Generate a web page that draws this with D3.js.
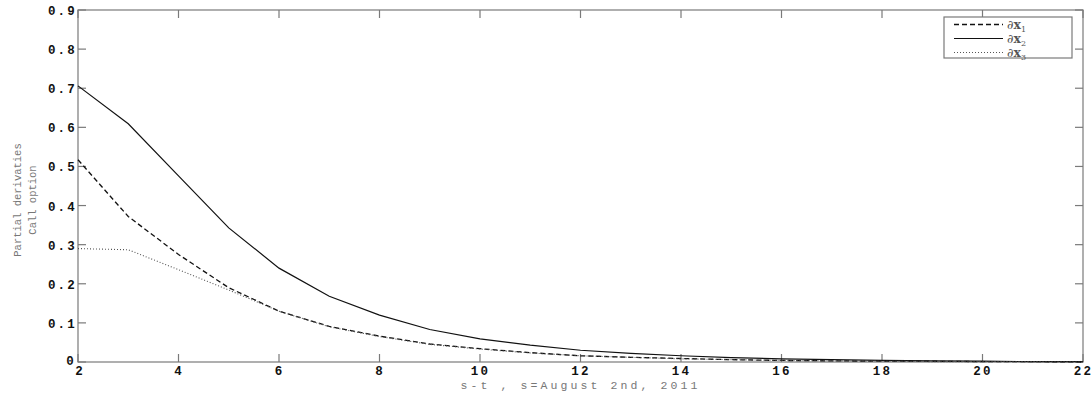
<!DOCTYPE html>
<html>
<head>
<meta charset="utf-8">
<script src="https://cdn.jsdelivr.net/npm/d3@7"></script>
<style>
  body { margin: 0; background: #fff; }
  svg { display: block; }
  .tick-label { font-family: "Liberation Mono", monospace; font-weight: bold; font-size: 12.5px; letter-spacing: 2.2px; fill: #111; }
  .axis-title { font-family: "Liberation Mono", monospace; font-size: 11.5px; fill: #777; }
</style>
</head>
<body>
<svg id="chart" width="1092" height="396"></svg>
<script>
// x values (s-t)
var days = [2, 3, 4, 5, 6, 7, 8, 9, 10, 11, 12, 13, 14, 15, 16, 17, 18, 19, 20, 21, 22];

// partial derivatives
var dx1 = [0.517, 0.372, 0.275, 0.190, 0.130, 0.091, 0.066, 0.046, 0.034, 0.024, 0.016, 0.012, 0.009, 0.006, 0.004, 0.003, 0.002, 0.002, 0.001, 0.001, 0.000];
var dx2 = [0.706, 0.609, 0.476, 0.343, 0.240, 0.168, 0.120, 0.083, 0.059, 0.043, 0.030, 0.022, 0.016, 0.011, 0.008, 0.006, 0.004, 0.003, 0.002, 0.001, 0.001];
var dx3 = [0.290, 0.287, 0.236, 0.184, 0.130, 0.090, 0.065, 0.045, 0.033, 0.023, 0.016, 0.012, 0.008, 0.006, 0.004, 0.003, 0.002, 0.001, 0.001, 0.001, 0.000];

var xTicks = [2, 4, 6, 8, 10, 12, 14, 16, 18, 20, 22];
var yTicks = [0, 0.1, 0.2, 0.3, 0.4, 0.5, 0.6, 0.7, 0.8, 0.9];
var seriesNames = ["1", "2", "3"];

var svg = d3.select("#chart");
var pLeft = 78, pRight = 1083, pTop = 10, pBottom = 362;

var x = d3.scaleLinear().domain([2, 22]).range([pLeft, pRight]);
var y = d3.scaleLinear().domain([0, 0.9]).range([pBottom, pTop]);

var axisColor = "#7a7a7a";
var tickLen = 8;

// box
svg.append("rect")
    .attr("x", pLeft).attr("y", pTop)
    .attr("width", pRight - pLeft).attr("height", pBottom - pTop)
    .attr("fill", "none")
    .attr("stroke", axisColor)
    .attr("stroke-width", 1.2);

// ticks (inside, all four sides)
var g = svg.append("g").attr("stroke", axisColor).attr("stroke-width", 1.2);
xTicks.forEach(function(t) {
  g.append("line").attr("x1", x(t)).attr("x2", x(t)).attr("y1", pBottom).attr("y2", pBottom - tickLen);
  g.append("line").attr("x1", x(t)).attr("x2", x(t)).attr("y1", pTop).attr("y2", pTop + tickLen);
});
yTicks.forEach(function(t) {
  g.append("line").attr("x1", pLeft).attr("x2", pLeft + tickLen).attr("y1", y(t)).attr("y2", y(t));
  g.append("line").attr("x1", pRight).attr("x2", pRight - tickLen).attr("y1", y(t)).attr("y2", y(t));
});

// tick labels
svg.selectAll(".xlab")
  .data(xTicks)
  .enter().append("text")
    .attr("class", "tick-label")
    .attr("x", function(d) { return x(d) + (d === 2 ? 2 : 0.5); })
    .attr("y", pBottom + 13)
    .attr("text-anchor", "middle")
    .text(function(d) { return d; });

svg.selectAll(".ylab")
  .data(yTicks)
  .enter().append("text")
    .attr("class", "tick-label")
    .attr("x", function(d) { return d === 0 ? pLeft - 2 : pLeft - 1; })
    .attr("y", function(d) { return y(d) + (d === 0 ? 3 : 5); })
    .attr("text-anchor", "end")
    .text(function(d) { return d === 0 ? "0" : d.toFixed(1); });

// axis titles
svg.append("text")
    .attr("class", "axis-title")
    .attr("x", (pLeft + pRight) / 2)
    .attr("y", pBottom + 27)
    .attr("text-anchor", "middle")
    .style("letter-spacing", "3.1px")
    .text("s-t , s=August 2nd, 2011");

var yt = svg.append("text")
    .attr("class", "axis-title")
    .attr("transform", "translate(21,200) rotate(-90)")
    .attr("text-anchor", "middle")
    .style("font-size", "10.5px");
yt.append("tspan").attr("x", 0).attr("dy", 0).text("Partial derivaties");
yt.append("tspan").attr("x", 0).attr("dy", 15).text("Call option");

// lines
var line = d3.line()
    .x(function(d, i) { return x(days[i]); })
    .y(function(d) { return y(d); });

var styles = [
  { data: dx1, dash: "5,3", color: "#111", width: 1.3 },
  { data: dx2, dash: null, color: "#111", width: 1.2 },
  { data: dx3, dash: "1,2", color: "#555", width: 1.1 }
];

styles.forEach(function(s) {
  svg.append("path")
      .attr("d", line(s.data))
      .attr("fill", "none")
      .attr("stroke", s.color)
      .attr("stroke-width", s.width)
      .attr("stroke-dasharray", s.dash);
});

// legend
var lg = svg.append("g").attr("transform", "translate(944,17)");
lg.append("rect")
    .attr("width", 128).attr("height", 41)
    .attr("fill", "#fff")
    .attr("stroke", axisColor)
    .attr("stroke-width", 1.2);

styles.forEach(function(s, i) {
  var yy = 7.5 + i * 14;
  lg.append("line")
      .attr("x1", 10).attr("x2", 59)
      .attr("y1", yy).attr("y2", yy)
      .attr("stroke", s.color)
      .attr("stroke-width", s.width)
      .attr("stroke-dasharray", s.dash);
  var t = lg.append("text")
      .attr("x", 63).attr("y", yy + 4)
      .style("font-family", "'DejaVu Serif', serif")
      .style("font-size", "12.5px")
      .style("fill", "#555");
  t.append("tspan").style("font-style", "italic").text("\u2202");
  t.append("tspan").style("font-weight", "bold").text("x");
  t.append("tspan").attr("dy", 3).style("font-size", "8px").text(seriesNames[i]);
});
</script>
</body>
</html>
